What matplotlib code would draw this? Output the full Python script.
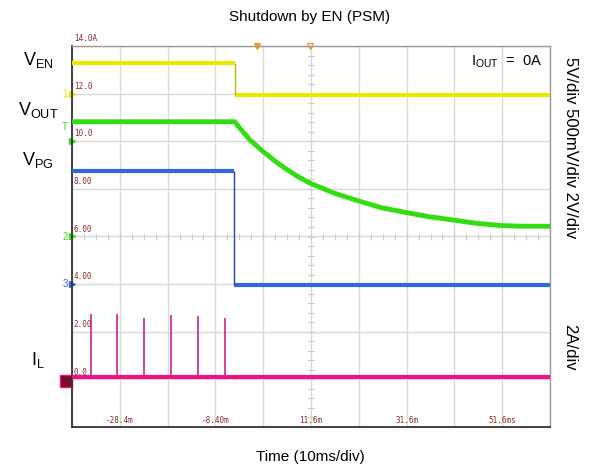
import matplotlib.pyplot as plt
import numpy as np

plt.rcParams['font.family'] = ['Liberation Sans', 'DejaVu Sans']
plt.rcParams['mathtext.fontset'] = 'custom'
plt.rcParams['mathtext.rm'] = 'Liberation Sans'

# scope screen: 10 ms/div horizontally, 2 units/div vertically
t_min, t_max = -38.4, 61.6
y_min, y_max = -2.0, 14.0
x_tick_vals = [-28.4, -8.4, 11.6, 31.6, 51.6]
x_tick_text = ['-28.4m', '-8.40m', '11.6m', '31.6m', '51.6ms']
y_tick_vals = [14.0, 12.0, 10.0, 8.0, 6.0, 4.0, 2.0, 0.0]
y_tick_text = ['14.0A', '12.0', '10.0', '8.00', '6.00', '4.00', '2.00', '0.0']

# EN (yellow): level before / after the EN edge
en_edge = -4.4
en_levels = [13.3, 11.95]
# PG (blue)
pg_edge = -4.6
pg_levels = [8.75, 3.98]
# VOUT (green)
vout_t = [-38.4, -4.4, -3.4, -1.3, 1.45, 4.0, 6.5, 9.0, 11.5, 16.6, 21.6, 26.3,
          31.7, 36.3, 41.4, 46.3, 51.4, 56.0, 61.6]
vout_v = [10.82, 10.82, 10.58, 10.08, 9.59, 9.18, 8.82, 8.5, 8.23, 7.81, 7.49, 7.21,
          7.0, 6.83, 6.69, 6.55, 6.46, 6.43, 6.43]
# IL (pink)
il_base = 0.1
il_spike_t = [-34.5, -28.9, -23.3, -17.7, -12.0, -6.4]
il_spike_v = [2.76, 2.76, 2.59, 2.7, 2.67, 2.59]

fig = plt.figure(figsize=(5.9, 4.73), dpi=100)
ax = fig.add_axes([72 / 590, 46 / 473, 478 / 590, 381 / 473])
ax.set_xlim(t_min, t_max)
ax.set_ylim(y_min, y_max)

# grid
for gx in np.arange(t_min, t_max + 0.1, 10):
    ax.axvline(gx, color='#d9d9d9', lw=1, zorder=0)
for gy in np.arange(y_min, y_max + 0.1, 2):
    ax.axhline(gy, color='#d9d9d9', lw=1, zorder=0)
# centre crosshair minor ticks
for mx in np.arange(t_min, t_max + 0.1, 2.5):
    ax.plot([mx, mx], [5.88, 6.12], color='#cccccc', lw=0.8, zorder=0)
for my in np.arange(y_min, y_max + 0.01, 0.4):
    ax.plot([11.0, 12.2], [my, my], color='#cccccc', lw=0.8, zorder=0)

ax.set_xticks([])
ax.set_yticks([])
for s in ['left', 'bottom']:
    ax.spines[s].set_color('#333333')
    ax.spines[s].set_linewidth(1.3)
for s in ['top', 'right']:
    ax.spines[s].set_color('#999999')
    ax.spines[s].set_linewidth(1.0)

# traces
lw_trace = 3.0
ax.hlines(en_levels, [t_min, en_edge], [en_edge, t_max], color='#e8e800', lw=lw_trace, zorder=3)
ax.vlines(en_edge, en_levels[1], en_levels[0], color='#c8b400', lw=1, zorder=4)
ax.hlines(pg_levels, [t_min, pg_edge], [pg_edge, t_max], color='#3366dd', lw=lw_trace, zorder=3)
ax.vlines(pg_edge, pg_levels[1], pg_levels[0], color='#2244aa', lw=1, zorder=4)
ax.plot(vout_t, vout_v, color='#33dd11', lw=3.5, solid_joinstyle='round', zorder=3)
ax.vlines(il_spike_t, il_base, il_spike_v, color='#cc2288', lw=1.2, zorder=3)
ax.axhline(il_base, color='#ee1188', lw=lw_trace, zorder=3)

# scope scale labels
for v, s in zip(y_tick_vals, y_tick_text):
    ax.text(-38.0, v + 0.12, s, fontsize=5.5, family='DejaVu Sans Mono',
            color='#8b2a2a', va='bottom', ha='left', zorder=5)
for v, s in zip(x_tick_vals, x_tick_text):
    ax.text(v, -1.72, s, fontsize=5.5, family='DejaVu Sans Mono',
            color='#8b2a2a', va='center', ha='center', zorder=5)

# channel markers
ax.text(-39.3, 12.0, '1', color='#e8e800', fontsize=7, ha='right', va='center', clip_on=False)
ax.plot([t_min], [12.0], marker='>', color='#e8e800', ms=4, clip_on=False)
ax.text(-39.3, 10.6, 'T', color='#33dd11', fontsize=7, ha='right', va='center', clip_on=False)
ax.plot([t_min], [10.0], marker='>', color='#33dd11', ms=4, clip_on=False)
ax.text(-39.3, 6.0, '2', color='#33dd11', fontsize=7, ha='right', va='center', clip_on=False)
ax.plot([t_min], [6.0], marker='>', color='#33dd11', ms=4, clip_on=False)
ax.text(-39.3, 4.0, '3', color='#3366dd', fontsize=7, ha='right', va='center', clip_on=False)
ax.plot([t_min], [4.0], marker='>', color='#3366dd', ms=4, clip_on=False)
ax.plot([t_min - 1.2], [-0.05], marker='s', color='#7a0a2a', mec='#ee1188', ms=9, clip_on=False)
ax.plot([0.35], [y_max], marker='v', color='#f0a020', ms=5, clip_on=False)
ax.plot([11.4], [y_max], marker='v', mfc='none', mec='#f0a020', ms=5, clip_on=False)

# signal names
ax.text(-45.5, 13.4, r'$\mathrm{V_{EN}}$', fontsize=13, ha='center', va='center', clip_on=False)
ax.text(-45.5, 11.3, r'$\mathrm{V_{OUT}}$', fontsize=13, ha='center', va='center', clip_on=False)
ax.text(-45.5, 9.2, r'$\mathrm{V_{PG}}$', fontsize=13, ha='center', va='center', clip_on=False)
ax.text(-45.5, 0.8, r'$\mathrm{I_{L}}$', fontsize=13, ha='center', va='center', clip_on=False)
ax.text(52.5, 13.35, r'$\mathrm{I_{OUT}}$  =  0A', fontsize=10.5, ha='center', va='center')

fig.text(570 / 590, 1 - 148 / 473, '5V/div 500mV/div 2V/div', rotation=-90,
         fontsize=12, ha='center', va='center')
fig.text(570 / 590, 1 - 347 / 473, '2A/div', rotation=-90,
         fontsize=12, ha='center', va='center')
fig.text(310 / 590, 1 - 17 / 473, 'Shutdown by EN (PSM)', fontsize=11, ha='center', va='center')
fig.text(310 / 590, 1 - 457 / 473, 'Time (10ms/div)', fontsize=11, ha='center', va='center')

fig.savefig('out.png', dpi=100)
